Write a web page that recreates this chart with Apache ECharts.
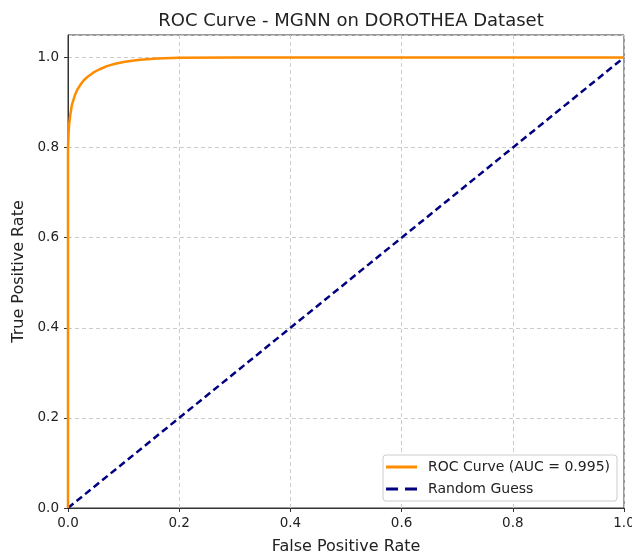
<!DOCTYPE html>
<html>
<head>
<meta charset="utf-8">
<script src="https://cdn.jsdelivr.net/npm/echarts@6/dist/echarts.min.js"></script>
<style>
  html, body { margin: 0; padding: 0; background: #fff; }
  #chart { width: 632px; height: 554px; }
</style>
</head>
<body>
<div id="chart"></div>
<script>
// ROC curve points (fpr, tpr)
var rocFpr = [0, 0, 0.001, 0.002, 0.004, 0.007, 0.012, 0.016, 0.022, 0.028, 0.036, 0.046, 0.057, 0.07, 0.085, 0.1, 0.115, 0.13, 0.16, 0.2, 0.3, 1.0];
var rocTpr = [0, 0.80, 0.83, 0.85, 0.872, 0.895, 0.915, 0.927, 0.939, 0.949, 0.958, 0.967, 0.974, 0.981, 0.986, 0.990, 0.993, 0.995, 0.998, 0.9995, 1.0, 1.0];
var guessFpr = [0, 1];
var guessTpr = [0, 1];
var tickVals = [0, 0.2, 0.4, 0.6, 0.8, 1.0];

var font = 'DejaVu Sans';
var rocData = [];
for (var i = 0; i < rocFpr.length; i++) rocData.push([rocFpr[i], rocTpr[i]]);
var guessData = [];
for (var i = 0; i < guessFpr.length; i++) guessData.push([guessFpr[i], guessTpr[i]]);

function fmt(v) {
  for (var k = 0; k < tickVals.length; k++) {
    if (Math.abs(v - tickVals[k]) < 1e-6) return tickVals[k].toFixed(1);
  }
  return '';
}

var chart = echarts.init(document.getElementById('chart'));
var option = {
  animation: false,
  backgroundColor: '#fff',
  title: {
    text: 'ROC Curve - MGNN on DOROTHEA Dataset',
    left: 346, top: 7, textAlign: 'center',
    textStyle: { fontFamily: font, fontSize: 18, fontWeight: 'normal', color: '#222' }
  },
  grid: {
    left: 68, right: 8, top: 35, bottom: 46, outerBoundsMode: 'none', containLabel: false,
    show: true, borderColor: '#333', borderWidth: 1, backgroundColor: 'transparent'
  },
  legend: {
    orient: 'vertical', right: 15, bottom: 53,
    backgroundColor: '#fff', borderColor: '#ccc', borderWidth: 1, borderRadius: 3,
    padding: [5, 7, 5, 3], itemGap: 8, itemWidth: 31, itemHeight: 3,
    textStyle: { fontFamily: font, fontSize: 14, color: '#222', padding: [0, 0, 0, 6] },
    data: [
      { name: 'ROC Curve (AUC = 0.995)', icon: 'rect', itemStyle: { color: '#ff8c00' } },
      { name: 'Random Guess', icon: 'path://M0,0h12v3h-12z M19,0h12v3h-12z', itemStyle: { color: '#000080' } }
    ]
  },
  xAxis: {
    type: 'value', min: 0, max: 1, interval: 0.2,
    name: 'False Positive Rate', nameLocation: 'middle', nameGap: 31,
    nameTextStyle: { fontFamily: font, fontSize: 16, color: '#222' },
    axisLine: { show: true, lineStyle: { color: '#333' } },
    axisTick: { show: true, length: 4, lineStyle: { color: '#333' } },
    axisLabel: { fontFamily: font, fontSize: 13.5, color: '#222', margin: 8, formatter: fmt },
    splitLine: { show: true, lineStyle: { color: '#ccc', type: [4, 3] } }
  },
  yAxis: {
    type: 'value', min: 0, max: 1.05, interval: 0.2,
    name: 'True Positive Rate', nameLocation: 'middle', nameGap: 39,
    nameTextStyle: { fontFamily: font, fontSize: 16, color: '#222' },
    axisLine: { show: true, lineStyle: { color: '#333' } },
    axisTick: { show: true, length: 4, lineStyle: { color: '#333' } },
    axisLabel: { fontFamily: font, fontSize: 13.5, color: '#222', margin: 9, formatter: fmt, showMaxLabel: false },
    splitLine: { show: true, lineStyle: { color: '#ccc', type: [4, 3] } }
  },
  series: [
    {
      name: 'ROC Curve (AUC = 0.995)', type: 'line', data: rocData,
      symbol: 'none', smooth: false, clip: true,
      lineStyle: { color: '#ff8c00', width: 2.5 },
      itemStyle: { color: '#ff8c00' }, z: 3
    },
    {
      name: 'Random Guess', type: 'line', data: guessData,
      symbol: 'none', clip: true,
      lineStyle: { color: '#000080', width: 2.5, type: [7, 4] },
      itemStyle: { color: '#000080' }, z: 2
    }
  ]
};
chart.setOption(option);
</script>
</body>
</html>
